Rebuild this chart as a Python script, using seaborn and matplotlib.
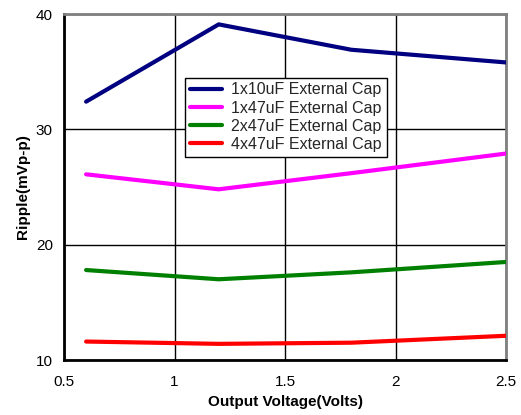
import numpy as np
import pandas as pd
import matplotlib
matplotlib.use("Agg")
import matplotlib.pyplot as plt
import seaborn as sns

# Output voltage points (Volts)
voltage = [0.6, 1.2, 1.8, 2.5]

# Ripple (mVp-p) per external capacitor configuration
series_names = ["1x10uF External Cap", "1x47uF External Cap",
                "2x47uF External Cap", "4x47uF External Cap"]
ripple_1x10 = [32.4, 39.1, 36.9, 35.8]
ripple_1x47 = [26.1, 24.8, 26.2, 27.9]
ripple_2x47 = [17.8, 17.0, 17.6, 18.5]
ripple_4x47 = [11.6, 11.4, 11.5, 12.1]

colors = ["#000080", "#FF00FF", "#008000", "#FF0000"]

rows = []
for name, vals in zip(series_names,
                      [ripple_1x10, ripple_1x47, ripple_2x47, ripple_4x47]):
    for v, r in zip(voltage, vals):
        rows.append({"Voltage": v, "Ripple": r, "Series": name})
df = pd.DataFrame(rows)

sns.set_theme(style="white")
plt.rcParams["font.family"] = ["Liberation Sans", "DejaVu Sans"]

fig = plt.figure(figsize=(5.21, 4.15), dpi=100)
ax = fig.add_axes([64 / 521, 1 - 360 / 415, 442 / 521, 346 / 415])

sns.lineplot(data=df, x="Voltage", y="Ripple", hue="Series",
             palette=colors, hue_order=series_names, linewidth=3,
             ax=ax, zorder=3)

ax.set_xlim(0.5, 2.5)
ax.set_ylim(10, 40)
ax.set_xticks([0.5, 1, 1.5, 2, 2.5])
ax.set_xticklabels(["0.5", "1", "1.5", "2", "2.5"])
ax.set_yticks([10, 20, 30, 40])
ax.grid(True, color="black", linewidth=1)
ax.tick_params(axis="both", length=0, labelsize=11, colors="black")
ax.tick_params(axis="x", pad=11)
ax.tick_params(axis="y", pad=8)

for side in ["left", "bottom"]:
    ax.spines[side].set_color("black")
    ax.spines[side].set_linewidth(2)
for side in ["top", "right"]:
    ax.spines[side].set_color("#808080")
    ax.spines[side].set_linewidth(2)

ax.set_xlabel("Output Voltage(Volts)", fontsize=11, fontweight="bold",
              color="black", labelpad=4)
ax.set_ylabel("Ripple(mVp-p)", fontsize=11, fontweight="bold",
              color="black", labelpad=4)

leg = ax.legend(loc="upper left", bbox_to_anchor=(0.274, 0.816),
                fontsize=11.5, frameon=True, fancybox=False,
                handlelength=2.0, handletextpad=0.6, borderpad=0.3,
                labelspacing=0.2, borderaxespad=0)
leg.get_frame().set_edgecolor("black")
leg.get_frame().set_linewidth(1)
leg.get_frame().set_alpha(1)
leg.set_zorder(5)

fig.savefig("out.png", dpi=100)
